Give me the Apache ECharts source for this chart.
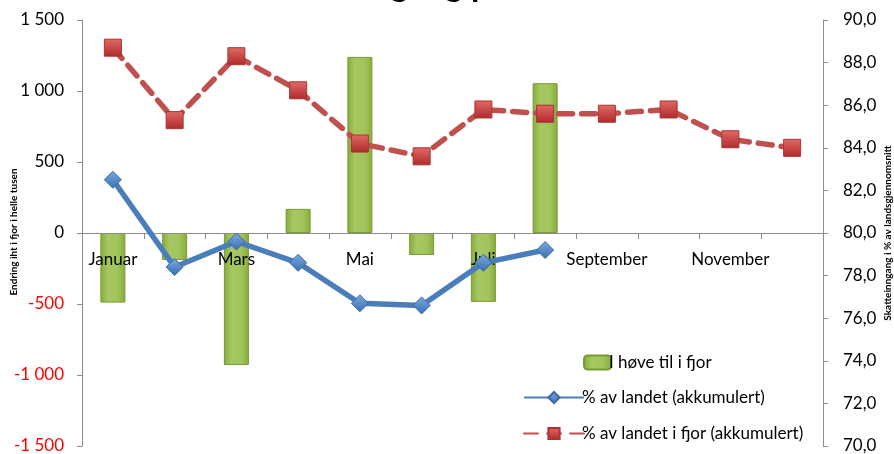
<!DOCTYPE html>
<html>
<head>
<meta charset="utf-8">
<script src="https://cdn.jsdelivr.net/npm/echarts@6/dist/echarts.min.js"></script>
<style>html,body{margin:0;padding:0;background:#fff}#c{width:894px;height:454px}</style>
</head>
<body>
<div id="c"></div>
<script>
var months = ['Januar','Februar','Mars','April','Mai','Juni','Juli','August','September','Oktober','November','Desember'];
var endring = [-490, -190, -930, 170, 1240, -155, -485, 1055, null, null, null, null];
var prosentLandet = [82.5, 78.4, 79.6, 78.6, 76.7, 76.6, 78.6, 79.2, null, null, null, null];
var prosentFjor = [88.7, 85.3, 88.3, 86.7, 84.2, 83.6, 85.8, 85.6, 85.6, 85.8, 84.4, 84.0];
var seriesNames = ['I høve til i fjor', '% av landet (akkumulert)', '% av landet i fjor (akkumulert)'];
var titleText = 'Skatteinngang pr. måned';
var leftAxisName = 'Endring iht i fjor i helle tusen';
var rightAxisName = 'Skatteinngang i % av landsgjennomsnitt';

var FONT = 'Lato, "Open Sans", sans-serif';
var chart = echarts.init(document.getElementById('c'));

function fmtThousand(v) {
  var s = Math.abs(v).toString().replace(/\B(?=(\d{3})+(?!\d))/g, ' ');
  return (v < 0 ? '-' : '') + s;
}

var greenFill = new echarts.graphic.LinearGradient(0, 0, 1, 0, [
  {offset: 0, color: '#86ab3a'},
  {offset: 0.3, color: '#a6c862'},
  {offset: 0.7, color: '#a2c45c'},
  {offset: 1, color: '#86ab3a'}
]);
var redFill = new echarts.graphic.LinearGradient(0, 0, 0, 1, [
  {offset: 0, color: '#e06a67'},
  {offset: 1, color: '#b02a2a'}
]);
var blueFill = new echarts.graphic.LinearGradient(0, 0, 0, 1, [
  {offset: 0, color: '#7aaae0'},
  {offset: 1, color: '#3a6fb0'}
]);

var option = {
  backgroundColor: '#ffffff',
  animation: false,
  title: {
    text: titleText,
    left: 243,
    top: -37,
    textStyle: {fontFamily: FONT, fontSize: 34, fontWeight: 'bold', color: '#000'}
  },
  graphic: [
    {
      type: 'text', x: 14, y: 232, rotation: Math.PI / 2,
      style: {text: leftAxisName, fontFamily: FONT, fontSize: 10, fontWeight: 'bold', fill: '#000', align: 'center', verticalAlign: 'middle'}
    },
    {
      type: 'text', x: 888, y: 233, rotation: Math.PI / 2,
      style: {text: rightAxisName, fontFamily: FONT, fontSize: 10, fontWeight: 'bold', fill: '#000', align: 'center', verticalAlign: 'middle'}
    }
  ],
  grid: {left: 82, right: 71, top: 20, bottom: 8, containLabel: false, outerBoundsMode: 'none'},
  legend: [
    {
      data: [seriesNames[0]], orient: 'vertical', left: 578, top: 349,
      itemWidth: 27, itemHeight: 14, itemGap: 0,
      textStyle: {fontFamily: FONT, fontSize: 17, color: '#000', padding: [0, 0, 0, -7]}
    },
    {
      data: [seriesNames[1]], orient: 'vertical', left: 518, top: 384,
      itemWidth: 60, itemHeight: 14, itemGap: 0,
      textStyle: {fontFamily: FONT, fontSize: 17, color: '#000', padding: [0, 0, 0, -7]}
    },
    {
      data: [seriesNames[2]], orient: 'vertical', left: 518, top: 420,
      itemWidth: 60, itemHeight: 14, itemGap: 0,
      textStyle: {fontFamily: FONT, fontSize: 17, color: '#000', padding: [0, 0, 0, -7]}
    }
  ],
  xAxis: {
    type: 'category',
    data: months,
    boundaryGap: true,
    position: 'bottom',
    offset: -213,
    z: 2,
    axisLine: {onZero: false, lineStyle: {color: '#8c8c8c', width: 1}},
    axisTick: {show: true, inside: false, length: 6, interval: 0, lineStyle: {color: '#8c8c8c'}},
    axisLabel: {interval: 1, margin: 18, fontFamily: FONT, fontSize: 17, color: '#000', hideOverlap: false},
    splitLine: {show: false}
  },
  yAxis: [
    {
      type: 'value', min: -1500, max: 1500, interval: 500, position: 'left',
      axisLine: {show: true, lineStyle: {color: '#8c8c8c'}},
      axisTick: {show: true, length: 5, lineStyle: {color: '#8c8c8c'}},
      splitLine: {show: false},
      axisLabel: {
        fontFamily: FONT, fontSize: 17, margin: 18,
        formatter: fmtThousand,
        color: function (v) { return Number(v) < 0 ? '#ff0000' : '#000000'; }
      }
    },
    {
      type: 'value', min: 70, max: 90, interval: 2, position: 'right',
      axisLine: {show: true, lineStyle: {color: '#8c8c8c'}},
      axisTick: {show: true, length: 5, lineStyle: {color: '#8c8c8c'}},
      splitLine: {show: false},
      axisLabel: {
        fontFamily: FONT, fontSize: 17, margin: 20, color: '#000',
        formatter: function (v) { return Number(v).toFixed(1).replace('.', ','); }
      }
    }
  ],
  series: [
    {
      name: seriesNames[0], type: 'bar', yAxisIndex: 0, data: endring,
      barWidth: 25, z: 1,
      itemStyle: {color: greenFill, borderColor: '#779a33', borderWidth: 1}
    },
    {
      name: seriesNames[2], type: 'line', yAxisIndex: 1, data: prosentFjor,
      symbol: 'rect', symbolSize: 17, z: 3,
      lineStyle: {color: '#c0504d', width: 5.5, type: [14, 9], cap: 'round'},
      itemStyle: {color: redFill, borderColor: '#a83431', borderWidth: 1}
    },
    {
      name: seriesNames[1], type: 'line', yAxisIndex: 1, data: prosentLandet,
      symbol: 'diamond', symbolSize: 17, z: 4,
      lineStyle: {color: '#4a7ebb', width: 5.5},
      itemStyle: {color: blueFill, borderColor: '#3a6aa5', borderWidth: 1}
    }
  ]
};
chart.setOption(option);
</script>
</body>
</html>
